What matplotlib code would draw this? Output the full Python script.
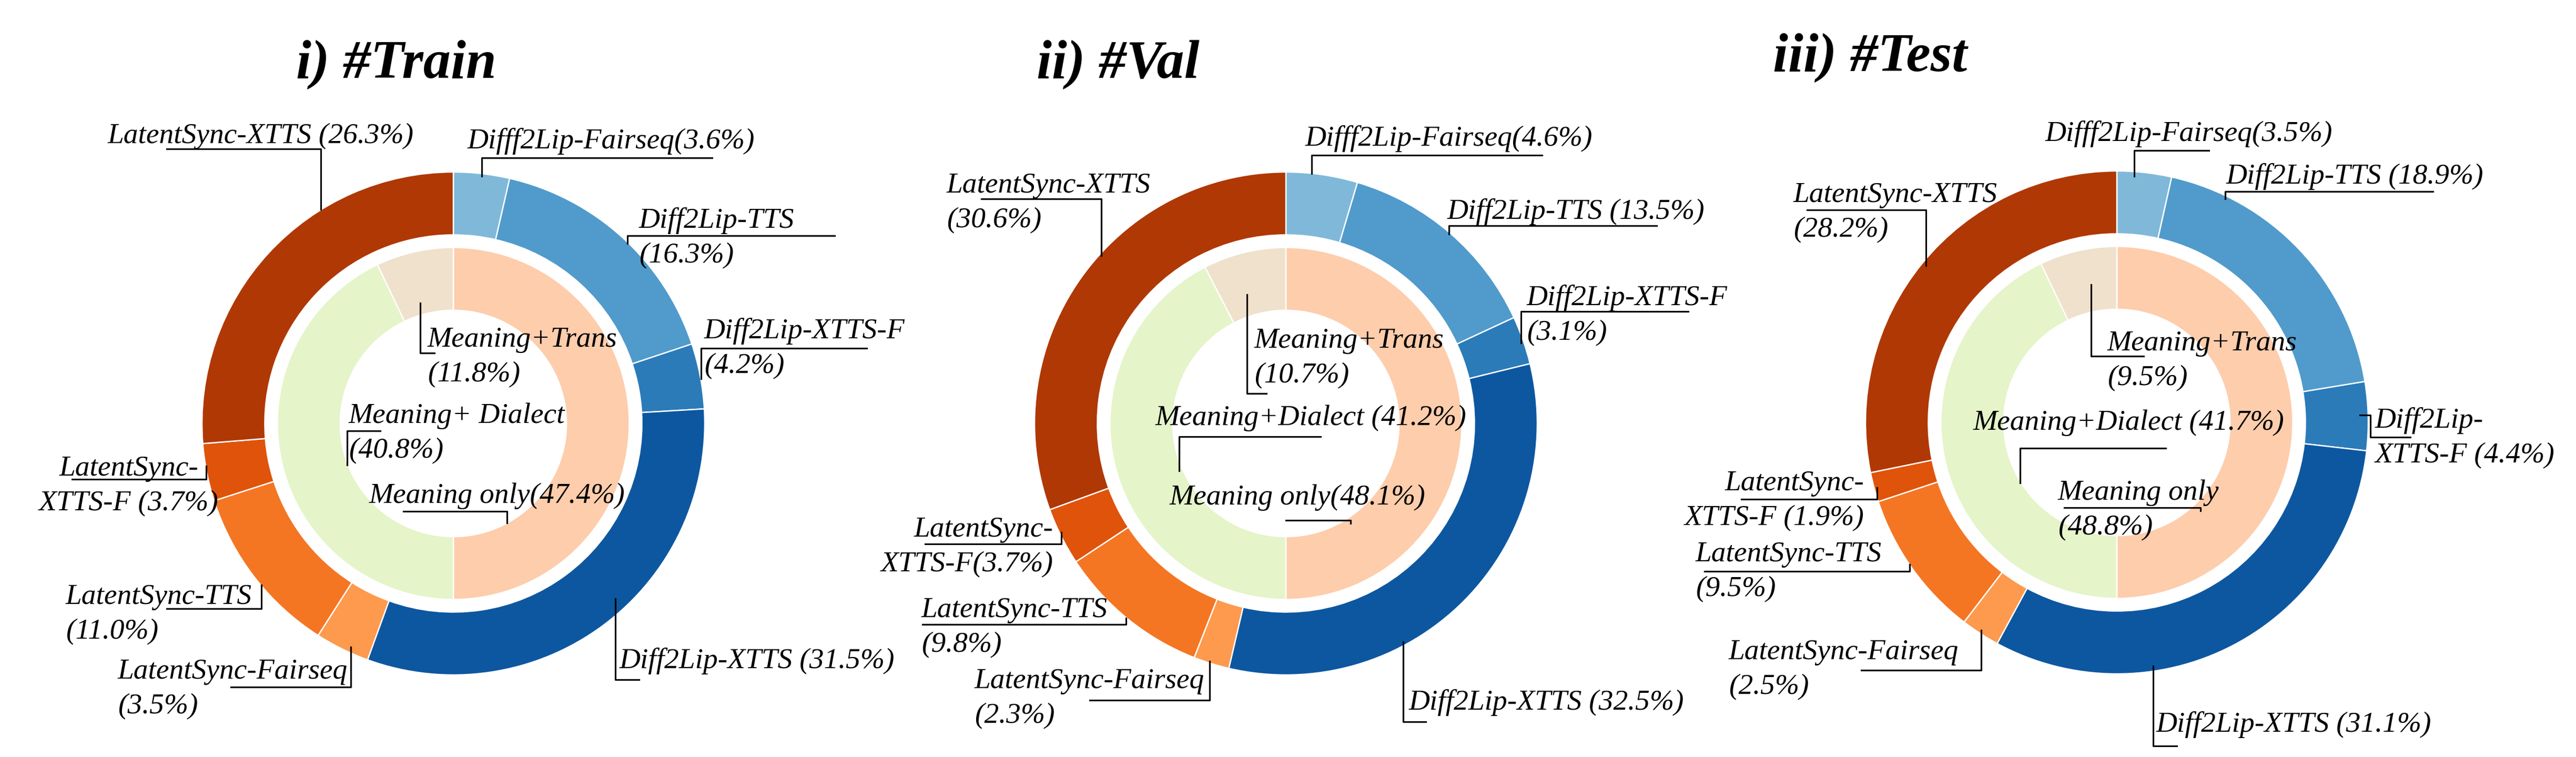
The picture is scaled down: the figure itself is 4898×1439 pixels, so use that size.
import matplotlib
matplotlib.use("Agg")
import matplotlib.pyplot as plt

# ---- data ----
outer_names = ["Difff2Lip-Fairseq", "Diff2Lip-TTS", "Diff2Lip-XTTS-F", "Diff2Lip-XTTS",
               "LatentSync-Fairseq", "LatentSync-TTS", "LatentSync-XTTS-F", "LatentSync-XTTS"]
train_outer = [3.6, 16.3, 4.2, 31.5, 3.5, 11.0, 3.7, 26.3]
val_outer = [4.6, 13.5, 3.1, 32.5, 2.3, 9.8, 3.7, 30.6]
test_outer = [3.5, 18.9, 4.4, 31.1, 2.5, 9.5, 1.9, 28.2]

inner_names = ["Meaning only", "Meaning+Dialect", "Meaning+Trans"]
# percentages printed in the labels
train_inner = [47.4, 40.8, 11.8]
val_inner = [48.1, 41.2, 10.7]
test_inner = [48.8, 41.7, 9.5]
# share of the inner ring actually drawn
train_inner_drawn = [50.0, 42.9, 7.1]
val_inner_drawn = [50.0, 42.4, 7.6]
test_inner_drawn = [50.0, 42.9, 7.1]

titles = ["i) #Train", "ii) #Val", "iii) #Test"]

outer_colors = ["#80b8d9", "#509bcb", "#2b7bb9", "#0d57a0",
                "#fd9a4e", "#f47623", "#df530b", "#b03804"]
inner_colors = ["#fdcdac", "#e5f4c9", "#f0e1cc"]

# ---- layout (pixel coords, y downwards) ----
W, H = 4899, 1439
centers = [(862, 805), (2445, 805), (4025, 803)]
R = 478
LINE_STEP = 66  # baseline-to-baseline distance of two-line labels
title_pos = [(563, 148), (1971, 148), (3371, 135)]

# (format, x, first-baseline y, ha, leader polyline)
outer_layout = [
    [("{n}({p}%)", 889, 282, "left", [(916, 335), (916, 300), (1354, 300)]),
     ("{n}\n({p}%)", 1215, 433, "left", [(1193, 463), (1193, 448), (1587, 448)]),
     ("{n}\n({p}%)", 1339, 643, "left", [(1333, 720), (1333, 662), (1648, 662)]),
     ("{n} ({p}%)", 1178, 1270, "left", [(1170, 1138), (1170, 1292), (1215, 1292)]),
     ("{n}\n({p}%)", 224, 1290, "left", [(667, 1230), (667, 1306), (439, 1306)]),
     ("{n}\n({p}%)", 125, 1148, "left", [(497, 1112), (497, 1157), (317, 1157)]),
     ("{a}\n{b} ({p}%)", 245, 904, "center", [(392, 886), (392, 911), (137, 911)]),
     ("{n} ({p}%)", 205, 272, "left", [(610, 398), (610, 283), (317, 283)])],
    [("{n}({p}%)", 2482, 277, "left", [(2494, 330), (2494, 295), (2932, 295)]),
     ("{n} ({p}%)", 2752, 416, "left", [(2755, 445), (2755, 429), (3150, 429)]),
     ("{n}\n({p}%)", 2903, 580, "left", [(2892, 652), (2892, 592), (3210, 592)]),
     ("{n} ({p}%)", 2679, 1349, "left", [(2668, 1220), (2668, 1372), (2711, 1372)]),
     ("{n}\n({p}%)", 1853, 1308, "left", [(2300, 1257), (2300, 1331), (2072, 1331)]),
     ("{n}\n({p}%)", 1752, 1173, "left", [(2141, 1175), (2141, 1187), (1754, 1187)]),
     ("{a}\n{b}({p}%)", 2003, 1020, "right", [(2018, 1012), (2018, 1034), (1759, 1034)]),
     ("{n}\n({p}%)", 1800, 366, "left", [(2094, 486), (2094, 378), (1866, 378)])],
    [("{n}({p}%)", 3889, 268, "left", [(4058, 335), (4058, 286), (4200, 286)]),
     ("{n} ({p}%)", 4233, 349, "left", [(4231, 378), (4231, 364), (4626, 364)]),
     ("{a}\n{b} ({p}%)", 4516, 813, "left", [(4487, 789), (4507, 789), (4507, 831), (4583, 831)]),
     ("{n} ({p}%)", 4100, 1391, "left", [(4094, 1266), (4094, 1418), (4139, 1418)]),
     ("{n}\n({p}%)", 3287, 1253, "left", [(3767, 1198), (3767, 1274), (3539, 1274)]),
     ("{n}\n({p}%)", 3224, 1067, "left", [(3631, 1073), (3631, 1086), (3241, 1086)]),
     ("{a}\n{b} ({p}%)", 3545, 932, "right", [(3569, 927), (3569, 949), (3311, 949)]),
     ("{n}\n({p}%)", 3410, 384, "left", [(3662, 505), (3662, 399), (3436, 399)])],
]
inner_layout = [
    [("{n}({p}%)", 702, 956, "left", [(964, 994), (964, 972), (767, 972)]),
     ("{a} {b}\n({p}%)", 663, 804, "left", [(660, 884), (660, 819), (723, 819)]),
     ("{n}\n({p}%)", 813, 659, "left", [(799, 576), (799, 671), (826, 671)])],
    [("{n}({p}%)", 2224, 959, "left", [(2568, 995), (2568, 989), (2445, 989)]),
     ("{n} ({p}%)", 2197, 808, "left", [(2242, 895), (2242, 830), (2511, 830)]),
     ("{n}\n({p}%)", 2385, 661, "left", [(2371, 560), (2371, 748), (2408, 748)])],
    [("{n}\n({p}%)", 3913, 950, "left", [(4184, 971), (4184, 965), (3925, 965)]),
     ("{n} ({p}%)", 3752, 817, "left", [(3841, 918), (3841, 852), (4118, 852)]),
     ("{n}\n({p}%)", 4007, 666, "left", [(3976, 541), (3976, 677), (4076, 677)])],
]

LABEL_FONT = dict(family="Liberation Serif", style="italic", fontsize=13.3)


def label_text(fmt, name, pct):
    # split after the first '-' or '+' for labels broken over two lines
    cut = next((i + 1 for i, c in enumerate(name) if c in "-+"), len(name))
    return fmt.format(n=name, p=f"{pct:.1f}", a=name[:cut], b=name[cut:])


def put_label(ax, entry, name, pct):
    fmt, x, y, ha, pts = entry
    for j, line in enumerate(label_text(fmt, name, pct).split("\n")):
        ax.text(x, y + j * LINE_STEP, line, ha=ha, va="baseline", zorder=5, **LABEL_FONT)
    ax.plot([p[0] for p in pts], [p[1] for p in pts], color="black", lw=0.75, zorder=4)


fig = plt.figure(figsize=(W / 300, H / 300), dpi=300)
ax = fig.add_axes([0, 0, 1, 1])

outer_sets = [train_outer, val_outer, test_outer]
inner_sets = [train_inner, val_inner, test_inner]
inner_drawn = [train_inner_drawn, val_inner_drawn, test_inner_drawn]

for k in range(3):
    c = centers[k]
    # y axis is flipped later, so start at -90 and go "counterclockwise" = clockwise on screen
    ax.pie(outer_sets[k], radius=R, center=c, startangle=-90, counterclock=True,
           colors=outer_colors,
           wedgeprops=dict(width=0.25 * R, edgecolor="white", linewidth=0.6))
    ax.pie(inner_drawn[k], radius=0.70 * R, center=c, startangle=-90, counterclock=True,
           colors=inner_colors,
           wedgeprops=dict(width=0.25 * R, edgecolor="white", linewidth=0.6))

    for entry, name, pct in zip(outer_layout[k], outer_names, outer_sets[k]):
        put_label(ax, entry, name, pct)
    for entry, name, pct in zip(inner_layout[k], inner_names, inner_sets[k]):
        put_label(ax, entry, name, pct)

    tx, ty = title_pos[k]
    ax.text(tx, ty, titles[k], ha="left", va="baseline", family="Liberation Serif",
            style="italic", weight="bold", fontsize=25)

ax.set_xlim(0, W)
ax.set_ylim(H, 0)
ax.set_aspect("equal")
ax.axis("off")

fig.savefig("out.png", dpi=300, facecolor="white")
